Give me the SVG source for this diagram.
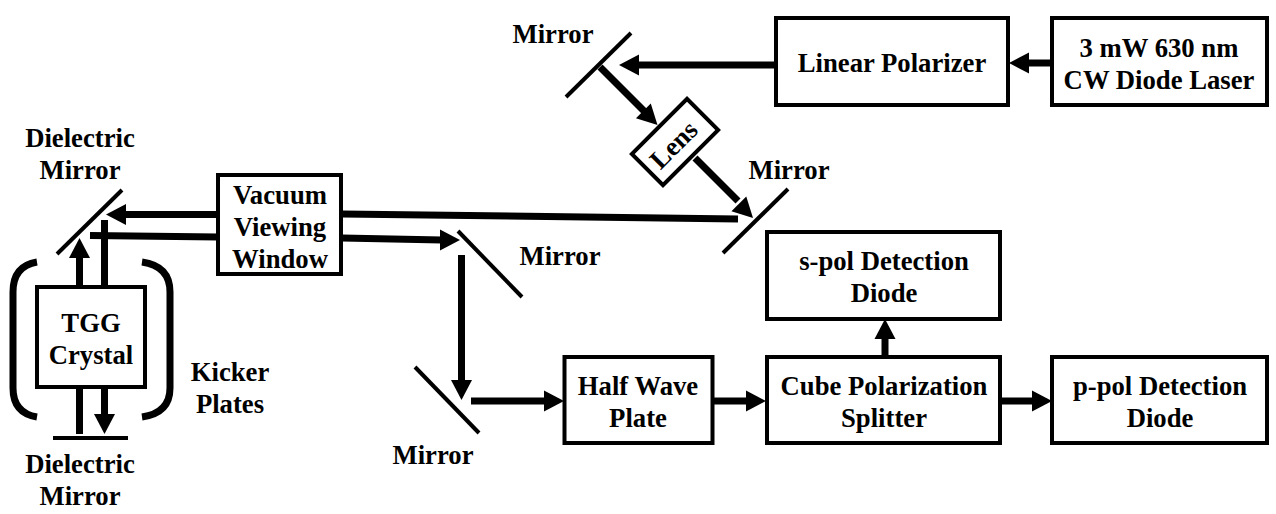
<svg xmlns="http://www.w3.org/2000/svg" width="1276" height="514" viewBox="0 0 1276 514">
  <style>
    text { font-family: "Liberation Serif", "Times New Roman", serif; font-weight: bold; font-size: 26.7px; fill: #000; text-anchor: middle; }
    .box { fill: #fff; stroke: #000; stroke-width: 4; }
    .mirror { fill: none; stroke: #000; stroke-width: 4; }
    .beam { fill: none; stroke: #000; stroke-width: 7; }
    .plate { fill: none; stroke: #000; stroke-width: 7; }
    .head { fill: #000; stroke: none; }
  </style>
  <defs>
    <!-- Arrowhead pointing along +x with its tip at the origin -->
    <polygon id="tip" class="head" points="0,0 -20,-10.500 -20,10.500"/>
  </defs>
  <rect width="1276" height="514" fill="#fff"/>

  <g id="connectors">
    <path class="beam" d="M776 65H636"/><use href="#tip" transform="translate(619,65) rotate(180)"/>
    <path class="beam" d="M1050 63H1024"/><use href="#tip" transform="translate(1009,63) rotate(180)"/>
    <path class="beam" d="M600 67L644 111"/><use href="#tip" transform="translate(657.500,125) rotate(45)"/>
    <path class="beam" d="M695 158L738 201"/><use href="#tip" transform="translate(753,218) rotate(45)"/>
    <path class="beam" d="M738 219L342 214"/>
    <path class="beam" d="M218 214.500H124"/><use href="#tip" transform="translate(106,214.500) rotate(180)"/>
    <path class="beam" d="M90 235.500L218 237"/>
    <path class="beam" d="M342 238L442 240"/><use href="#tip" transform="translate(460,240) rotate(0)"/>
    <path class="beam" d="M104.500 220V287"/>
    <path class="beam" d="M79.500 287V255"/><use href="#tip" transform="translate(79.500,238) rotate(-90)"/>
    <path class="beam" d="M79.500 388V434"/>
    <path class="beam" d="M104.500 388V416"/><use href="#tip" transform="translate(104.500,434) rotate(90)"/>
    <path class="beam" d="M461.500 255V382"/><use href="#tip" transform="translate(461.500,400) rotate(90)"/>
    <path class="beam" d="M471 401H546"/><use href="#tip" transform="translate(564,401) rotate(0)"/>
    <path class="beam" d="M713 401H750"/><use href="#tip" transform="translate(766,401) rotate(0)"/>
    <path class="beam" d="M1000 401H1034"/><use href="#tip" transform="translate(1052,401) rotate(0)"/>
    <path class="beam" d="M885 356V336"/><use href="#tip" transform="translate(885,319) rotate(-90)"/>
  </g>

  <g id="mirror-top"><path class="mirror" d="M631 33L566 97"/><text x="553" y="42.500">Mirror</text></g>
  <g id="mirror-right"><path class="mirror" d="M788 189L723 253"/><text x="789" y="178.500">Mirror</text></g>
  <g id="mirror-turn"><path class="mirror" d="M458 231L522 297"/><text x="560" y="264.500">Mirror</text></g>
  <g id="mirror-lower"><path class="mirror" d="M415 367L479 433"/><text x="433" y="463.500">Mirror</text></g>
  <g id="dielectric-upper"><path class="mirror" d="M122 190L57 254"/><text x="80" y="146.500">Dielectric</text><text x="80" y="178.500">Mirror</text></g>
  <g id="dielectric-lower"><path class="mirror" d="M53 438H128"/><text x="80" y="472.500">Dielectric</text><text x="80" y="504.500">Mirror</text></g>

  <g id="kicker-plates">
    <path class="plate" d="M37 262Q13 266 13 292V388Q13 413 37 417"/>
    <path class="plate" d="M142 262Q170 266 170 292V388Q170 413 142 417"/>
    <text x="230" y="380.500">Kicker</text><text x="230" y="412.500">Plates</text>
  </g>

  <g id="tgg-crystal"><rect class="box" x="37" y="287" width="108" height="100"/><text x="91" y="331.500">TGG</text><text x="91" y="363.500">Crystal</text></g>
  <g id="vacuum-window"><rect class="box" x="218" y="175" width="123" height="99"/><text x="280" y="203.500">Vacuum</text><text x="280" y="235.500">Viewing</text><text x="280" y="267.500">Window</text></g>
  <g id="lens"><rect class="box" x="-39" y="-22" width="78" height="44" transform="translate(675,142) rotate(-45)"/><text transform="translate(680,151) rotate(-45)">Lens</text></g>
  <g id="linear-polarizer"><rect class="box" x="776" y="18" width="232" height="87"/><text x="892" y="71.500">Linear Polarizer</text></g>
  <g id="laser"><rect class="box" x="1052" y="18" width="215" height="87"/><text x="1159" y="56.500">3 mW 630 nm</text><text x="1159" y="88.500">CW Diode Laser</text></g>
  <g id="s-pol"><rect class="box" x="767" y="232" width="233" height="87"/><text x="884" y="269.500">s-pol Detection</text><text x="884" y="301.500">Diode</text></g>
  <g id="half-wave"><rect class="box" x="564.500" y="357" width="148" height="86"/><text x="638" y="394.500">Half Wave</text><text x="638" y="426.500">Plate</text></g>
  <g id="cube-splitter"><rect class="box" x="767" y="357" width="233" height="86"/><text x="884" y="394.500">Cube Polarization</text><text x="884" y="426.500">Splitter</text></g>
  <g id="p-pol"><rect class="box" x="1052" y="357" width="215" height="86"/><text x="1160" y="394.500">p-pol Detection</text><text x="1160" y="426.500">Diode</text></g>
</svg>
